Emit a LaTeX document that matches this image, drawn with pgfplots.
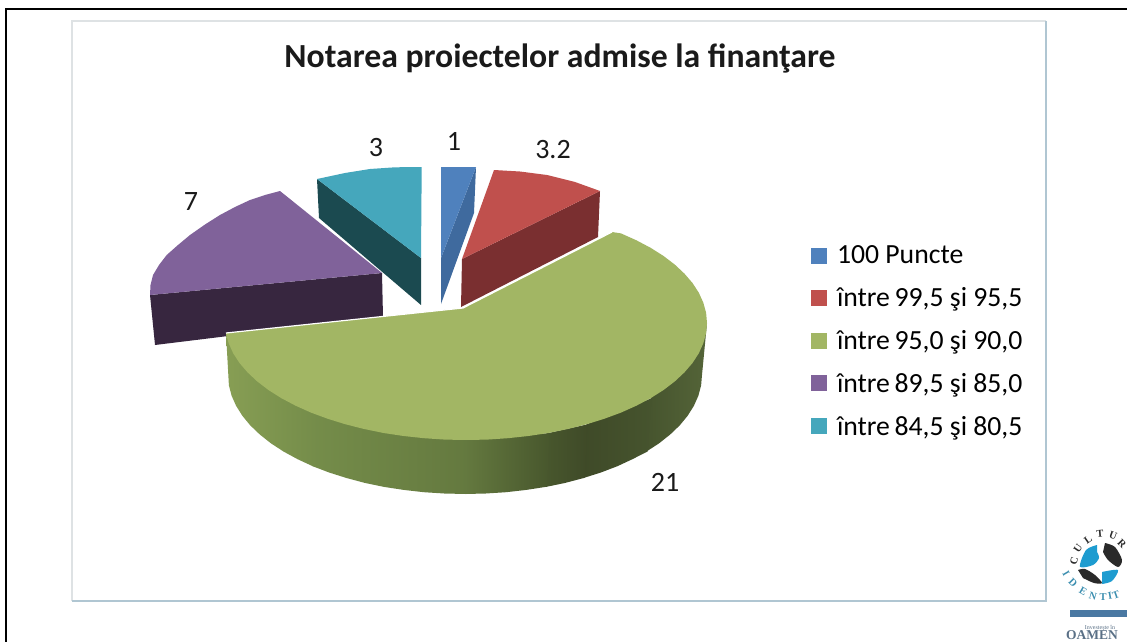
\documentclass[border=0pt]{standalone}
\usepackage{pgfplots}
\pgfplotsset{compat=1.18}
\usepackage{fontspec}
\setmainfont{Carlito}
\newfontfamily\logofont{Liberation Serif}
\definecolor{cblue}{HTML}{4F81BD}
\definecolor{cblueD}{HTML}{3F6A9E}
\definecolor{cred}{HTML}{C0504D}
\definecolor{credD}{HTML}{7A2F30}
\definecolor{cgreen}{HTML}{A2B664}
\definecolor{cpurp}{HTML}{80629A}
\definecolor{cpurpD}{HTML}{37263F}
\definecolor{cteal}{HTML}{45A7BC}
\definecolor{ctealD}{HTML}{1B4A50}
\definecolor{ctxt}{HTML}{1A1A1A}
\definecolor{s0}{RGB}{84,100,56}
\definecolor{s1}{RGB}{70,84,46}
\definecolor{s2}{RGB}{63,74,40}
\definecolor{s3}{RGB}{72,87,45}
\definecolor{s4}{RGB}{100,121,63}
\definecolor{s5}{RGB}{117,141,74}
\definecolor{s6}{RGB}{135,158,84}
\definecolor{panelA}{RGB}{222,226,228}
\definecolor{panelB}{RGB}{176,198,210}
\definecolor{logoT}{HTML}{3D8FB0}
\definecolor{logoK}{HTML}{2A2A2A}
\definecolor{logoB}{HTML}{1E9CD0}
\definecolor{logoBand}{HTML}{4A78A2}
\definecolor{logoO}{HTML}{5A7086}
\newcommand\vlab[3]{\node[font=\fontsize{28}{32}\selectfont,text=ctxt] at (axis cs:#1,#2) {#3};}
\newcommand\lgl[4]{\node[inner sep=0pt,font=\logofont\bfseries\fontsize{10.5}{11}\selectfont,text=#4,rotate=#3] at (axis cs:#1) {#2};}
\begin{document}
\begin{tikzpicture}
\begin{axis}[
  scale only axis, width=1127pt, height=642pt,
  xmin=0, xmax=1127, ymin=0, ymax=642, y dir=reverse,
  axis lines=none, ticks=none, clip=true,
  legend style={at={(811/1127,1-244/642)},anchor=north west,draw=none,fill=none,
    font=\fontsize{27.7}{30}\selectfont, row sep=18.2pt, inner sep=0pt, outer sep=0pt,
    /tikz/every odd column/.append style={column sep=8pt}},
  legend cell align=left,
  legend image code/.code={\path[#1] (0pt,-8pt) rectangle (16pt,8pt);},
]
% chart panel
\addplot[forget plot,fill=white,draw=none] coordinates {(72,21)(1046,21)(1046,601)(72,601)} -- cycle;
\addplot[forget plot,panelA,line width=1.5pt] coordinates {(72,601)(72,21)(1046,21)};
\addplot[forget plot,panelB,line width=1.5pt] coordinates {(1046,21)(1046,601)(72,601)};
% slice sides
\addplot[forget plot,fill=ctealD,draw=none] coordinates {(317,179)(421,258)(421,305)(319,218)} -- cycle;
\addplot[forget plot,fill=cblueD,draw=none] coordinates {(476,167)(441,258)(441,304)(474,213)} -- cycle;
\addplot[forget plot,fill=credD,draw=none] coordinates {(600,191)(462,259)(461,307)(598,237)} -- cycle;
\addplot[forget plot,fill=cpurpD,draw=none] coordinates {(150,295)(382,273)(383,317)(155,345)} -- cycle;
% green side: shaded pieces, each overlapping its right-hand neighbour
\addplot[forget plot,left color=s1,right color=s0,draw=none] coordinates {(707,323)(702,375)(701.1,385.4)(698.4,395.7)(693.9,405.8)(687.7,415.7)(679.8,425.3)(670.2,434.5)(659.1,443.3)(646.5,451.5)(650.6,398.2)} -- cycle;
\addplot[forget plot,left color=s2,right color=s1,draw=none] coordinates {(651.6,398.2)(647.5,451.5)(632.6,459.1)(617.4,466.2)(600.9,472.5)(583.5,478)(586.5,424.3)} -- cycle;
\addplot[forget plot,left color=s3,right color=s2,draw=none] coordinates {(587.5,424.3)(584.5,477.8)(565.2,482.9)(546,486.9)(548.4,433)} -- cycle;
\addplot[forget plot,left color=s4,right color=s3,draw=none] coordinates {(549.4,433)(547,486.7)(526.3,489.9)(506.2,492.2)(485.7,493.5)(465,494)(466,440)} -- cycle;
\addplot[forget plot,left color=s5,right color=s4,draw=none] coordinates {(467,440)(466,494)(444.3,493.5)(423.8,492.2)(403.7,489.9)(384,486.9)(364.8,482.9)(346.5,478)(329.1,472.5)(312.6,466.2)(311,412.6)} -- cycle;
\addplot[forget plot,left color=s6,right color=s5,draw=none] coordinates {(312,412.6)(313.6,466.6)(297.4,459.1)(283.5,451.5)(270.9,443.3)(259.8,434.5)(250.2,425.3)(242.3,415.7)(236.1,405.8)(231.6,395.7)(228.9,385.4)(226,333)} -- cycle;
% top faces (in series order)
\addplot[fill=cblue,draw=none] coordinates {(441,167)(476,167)(441,258)} -- cycle;
\addlegendentry{100 Puncte}
\addplot[fill=cred,draw=none] coordinates {(462,259)(494,170)(520,171.5)(547,175)(575,182)(600,191)} -- cycle;
\addlegendentry{între\,99,5 şi 95,5}
\addplot[fill=cgreen,draw=none] coordinates {(463,308)(612,232)(621,233.4)(636.4,240.3)(650.6,247.8)(663.4,255.9)(674.7,264.5)(684.4,273.6)(692.5,283)(698.8,292.7)(703.3,302.6)(706.1,312.8)(707,323)(706.1,333.2)(703.3,343.3)(698.8,353.3)(692.5,363)(684.4,372.4)(674.7,381.5)(663.4,390.1)(650.6,398.2)(636.4,405.7)(621,412.6)(604.2,418.8)(586.5,424.3)(567.8,429)(548.4,433)(528.4,436)(507.9,438.2)(487,439.6)(466,440)(445,439.6)(424.1,438.2)(403.6,436)(383.6,433)(364.2,429)(345.5,424.3)(327.8,418.8)(311,412.6)(295.6,405.7)(281.4,398.2)(268.6,390.1)(257.3,381.5)(247.6,372.4)(239.5,363)(233.2,353.3)(228.7,343.3)(225.9,333.2)} -- cycle;
\addlegendentry{între\,95,0 şi 90,0}
\addplot[fill=cpurp,draw=none] coordinates {(382,273)(280,191)(265,195)(250,200)(235,207)(220,215)(205,224.5)(190,235)(178,245)(166.7,255)(159,265)(153,275)(150.5,285)(150,295)} -- cycle;
\addlegendentry{între\,89,5 şi 85,0}
\addplot[fill=cteal,draw=none] coordinates {(421,258)(421.7,167)(395,167.3)(370,169)(345,173)(317,179)} -- cycle;
\addlegendentry{între\,84,5 şi 80,5}
\addplot[forget plot,white,line width=1.2pt] coordinates {(226,333)(463,308)(612,232)};
% title and value labels
\node[anchor=center,font=\fontsize{33.7}{38}\selectfont\bfseries,text=ctxt] at (axis cs:560,58) {Notarea proiectelor admise la finanţare};
\vlab{454}{141}{1}
\vlab{553}{150}{3.2}
\vlab{376}{148}{3}
\vlab{191}{202}{7}
\vlab{665}{482}{21}
% logo
\addplot[forget plot,smooth,fill=logoB,draw=none] coordinates {(1097,545)(1086,550)(1080,566.7)(1093,565)(1099,558)(1097,552)} -- cycle;
\addplot[forget plot,smooth,fill=logoK,draw=none] coordinates {(1105,543)(1115,547)(1122,560)(1118,567)(1108,560)(1103,552)} -- cycle;
\addplot[forget plot,smooth,fill=logoK,draw=none] coordinates {(1078,570)(1085,569)(1095,575)(1102,583)(1094,583)(1083,578)} -- cycle;
\addplot[forget plot,smooth,fill=logoB,draw=none] coordinates {(1102,572)(1118,570)(1112,581)(1102,584)} -- cycle;
\lgl{1074,561}{C}{75}{logoK}
\lgl{1078,548}{U}{55}{logoK}
\lgl{1088,540}{L}{35}{logoK}
\lgl{1100,534}{T}{5}{logoK}
\lgl{1113,536}{U}{-20}{logoK}
\lgl{1122,544}{R}{-45}{logoK}
\lgl{1066,574}{I}{-60}{logoT}
\lgl{1073,583}{D}{-45}{logoT}
\lgl{1083,591}{E}{-30}{logoT}
\lgl{1093,596}{N}{-15}{logoT}
\lgl{1103,597}{T}{0}{logoT}
\lgl{1110,596}{I}{10}{logoT}
\lgl{1116,595}{T}{20}{logoT}
\addplot[forget plot,fill=logoBand,draw=none] coordinates {(1070,610)(1127,610)(1127,617)(1070,617)} -- cycle;
\node[font=\logofont\fontsize{6}{6}\selectfont,text=logoO] at (axis cs:1100,628) {Investeşte în};
\node[anchor=west,inner sep=0pt,font=\logofont\bfseries\fontsize{13.5}{14}\selectfont,text=logoO] at (axis cs:1066,635) {OAMEN};
% outer frame
\addplot[forget plot,black,line width=2.2pt] coordinates {(6,642)(6,9)(1127,9)};
\end{axis}
\pgfresetboundingbox
\useasboundingbox (0,0) rectangle (1127pt,642pt);
\end{tikzpicture}
\end{document}
